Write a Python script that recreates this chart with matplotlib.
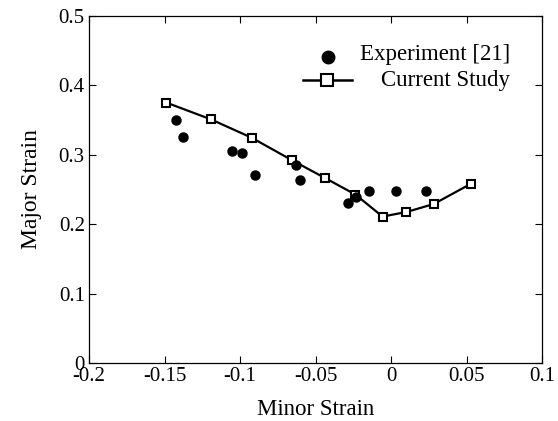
import matplotlib

matplotlib.use("Agg")
import matplotlib.pyplot as plt

# Experiment [21]
exp_minor = [-0.1424, -0.1375, -0.1055, -0.0991, -0.0904, -0.0629, -0.0601,
             -0.0288, -0.0232, -0.0145, 0.0032, 0.0227]
exp_major = [0.350, 0.3255, 0.306, 0.3025, 0.2713, 0.2857, 0.2632,
             0.231, 0.239, 0.2483, 0.2483, 0.2483]

# Current study
sim_minor = [-0.149, -0.1196, -0.0925, -0.0657, -0.0439, -0.0237, -0.0058,
             0.010, 0.028, 0.0525]
sim_major = [0.375, 0.351, 0.3245, 0.292, 0.2665, 0.2426, 0.211,
             0.2176, 0.229, 0.258]

x_ticks = [-0.2, -0.15, -0.1, -0.05, 0, 0.05, 0.1]
x_tick_labels = ["-0.2", "-0.15", "-0.1", "-0.05", "0", "0.05", "0.1"]
y_ticks = [0, 0.1, 0.2, 0.3, 0.4, 0.5]
y_tick_labels = ["0", "0.1", "0.2", "0.3", "0.4", "0.5"]

plt.rcParams["font.family"] = ["Liberation Serif", "DejaVu Serif"]
plt.rcParams["axes.unicode_minus"] = False

fig = plt.figure(figsize=(5.58, 4.21), dpi=100)
ax = fig.add_axes([0.1595, 0.137, 0.8127, 0.826])

ax.plot(exp_minor, exp_major, linestyle="none", marker="o", ms=6.5,
        color="black", zorder=3)
ax.plot(sim_minor, sim_major, color="black", lw=1.6, marker="s", ms=5.5,
        mfc="white", mec="black", mew=1.5, zorder=2)

ax.set_xlim(-0.2, 0.1)
ax.set_ylim(0, 0.5)
ax.set_xticks(x_ticks)
ax.set_xticklabels(x_tick_labels)
ax.set_yticks(y_ticks)
ax.set_yticklabels(y_tick_labels)
ax.tick_params(direction="in", top=True, right=True, length=5, width=0.8,
               labelsize=15, pad=3)
for s in ax.spines.values():
    s.set_linewidth(0.9)

ax.set_xlabel("Minor Strain", fontsize=16.5, labelpad=9)
ax.set_ylabel("Major Strain", fontsize=17, labelpad=12)

# legend drawn by hand (right-aligned labels)
tr = ax.transAxes
ax.plot([0.527], [0.881], marker="o", ms=9, color="black", transform=tr,
        clip_on=False)
ax.plot([0.472, 0.580], [0.815, 0.815], color="black", lw=1.8, transform=tr,
        clip_on=False)
ax.plot([0.525], [0.815], marker="s", ms=8.5, mfc="white", mec="black",
        mew=1.5, transform=tr, clip_on=False)
ax.text(0.928, 0.887, "Experiment [21]", transform=tr, ha="right",
        va="center", fontsize=16.5)
ax.text(0.928, 0.813, "Current Study", transform=tr, ha="right",
        va="center", fontsize=16.5)

fig.savefig("out.png", dpi=100)
